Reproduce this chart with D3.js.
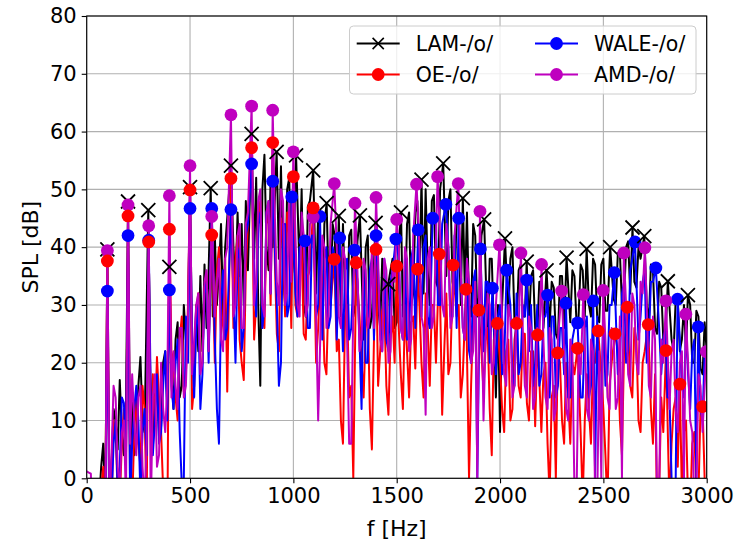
<!DOCTYPE html>
<html>
<head>
<meta charset="utf-8">
<script src="https://cdn.jsdelivr.net/npm/d3@7"></script>
<style>
  body { margin: 0; background: #fff; }
  text { font-family: "DejaVu Sans", sans-serif; }
</style>
</head>
<body>
<div id="chart"></div>
<script>
// spectra sampled every 10 Hz from 0 to 3000 Hz (20 values per row = 200 Hz)
const step = 10;
const lamLine = [
  -10,-14,-12,-20,-15,-8,-4,2,6,-5, 0,-3,2,12,10,5,17,8,4,12,
  0,3,14,4,6,16,21,10,8,2, 0,10,5,15,18,7,9,20,22,12,
  0,18,12,24,27,14,16,30,24,28, 0,22,20,30,22,35,22,37,26,36,
  0,28,42,30,36,44,28,40,45,32, 0,40,33,46,35,44,30,48,36,50,
  0,38,52,30,16,50,56,40,36,52, 40,48,0,38,54,36,30,50,52,34,
  38,0,0,36,50,30,28,47,48,0, 0,32,46,30,27,44,0,34,30,44,
  42,30,0,28,44,32,25,42,43,28, 30,41,0,0,24,40,42,26,28,0,
  0,30,26,38,30,24,0,36,38,26, 27,40,0,28,30,44,46,30,32,46,
  48,34,0,32,50,36,30,48,49,34, 33,50,0,0,35,48,50,34,32,46,
  44,30,0,32,46,30,28,44,42,28, 32,42,0,0,24,38,38,26,14,30,
  8,30,0,0,28,38,40,27,26,36, 37,28,28,0,26,35,36,26,25,34,
  34,26,0,0,26,34,33,25,24,35, 35,26,0,0,27,36,35,27,28,37,
  36,28,0,30,28,38,37,28,27,37, 38,29,29,0,0,31,30,39,39,30,
  31,40,41,32,0,34,33,40,38,0, 0,30,27,37,36,26,25,34,33,24,
  24,0,0,24,22,31,31,22,24,30, 22,0,30,20,20,29,28,19,18,27,
  22
];
const oeLine = [
  -10,-12,-14,-16,-12,-8,-5,-2,2,-4, 0,-8,-6,10,8,-3,-4,6,12,3,
  0,-2,-5,8,14,6,2,16,12,-6, 0,8,18,9,21,14,8,-2,-4,-10,
  0,22,20,14,10,24,28,15,18,30, 0,12,16,29,32,19,20,33,35,22,
  0,0,20,36,40,25,28,38,15,0, 0,26,38,42,24,20,17,36,44,0,
  0,24,30,45,48,28,26,44,46,30, 0,38,25,22,45,40,28,46,42,26,
  0,30,28,38,40,25,24,35,36,0, 0,20,26,36,34,20,18,32,30,0,
  0,22,24,10,6,28,30,14,16,0, 0,0,28,20,14,26,30,12,5,24,
  0,16,22,29,30,16,11,24,28,20, 0,26,18,12,30,22,14,27,28,19,
  0,30,20,14,32,26,16,30,30,20, 0,0,11,22,32,18,20,0,0,28,
  30,14,18,27,0,0,16,28,28,0, 0,22,15,24,26,12,4,24,0,0,
  20,12,8,22,24,10,12,24,0,16, 14,25,25,13,10,22,22,9,0,0,
  8,18,20,6,-3,14,16,0,0,20, 10,6,20,14,6,20,18,0,0,8,
  -4,10,18,12,6,20,20,0,0,18, 12,4,-5,16,20,0,0,22,10,4,
  22,0,0,16,14,26,24,10,8,20, 22,0,0,12,6,18,-6,-2,14,8,
  0,0,-5,6,12,14,2,0,-3,8, 10,-4,-6,6,8,-2,-3,12,0,0,
  -5
];
const waleLine = [
  -12,-14,-15,-12,-10,-9,-8,-4,-2,-6, 0,-10,-4,6,10,-2,2,14,13,4,
  0,-4,6,12,16,10,-3,8,12,4, 0,14,4,10,18,6,8,16,22,10,
  0,16,12,20,24,8,-1,0,28,20, 0,24,14,26,30,12,18,32,34,20,
  0,0,24,12,6,30,36,24,26,0, 0,32,20,38,40,22,26,42,44,0,
  0,36,28,44,46,26,30,46,48,32, 0,40,30,16,20,44,44,28,30,0,
  0,32,28,40,40,0,0,26,26,42, 42,28,30,0,24,38,40,26,28,40,
  38,24,0,0,22,36,38,24,26,0, 0,34,24,12,36,20,20,36,38,24,
  0,36,26,22,38,24,22,34,36,0, 0,38,26,24,38,24,24,38,40,26,
  0,0,28,40,42,28,26,0,0,44, 30,30,44,0,0,40,28,28,42,26,
  0,36,26,24,38,22,20,34,36,0, 0,0,22,34,34,20,0,0,18,28,
  30,18,20,0,0,30,18,16,32,18, 20,30,28,0,22,30,16,20,30,16,
  18,28,28,0,14,28,28,14,16,26, 26,18,0,14,14,24,26,0,0,14,
  14,26,28,14,16,0,0,28,12,14, 28,16,18,30,30,0,0,18,20,32,
  34,20,22,36,38,0,0,24,28,34, 36,20,24,34,34,0,0,26,18,24,
  26,14,14,0,-2,0,0,24,16,14, 26,18,12,22,24,0,0,12,10,22,
  18
];
const amdLine = [
  1.2,1.0,0.8,-8,-10,-14,-12,-6,-3,-8, 0,-4,4,16,14,2,-2,8,10,-4,
  0,6,18,10,4,14,16,2,-4,6, 0,-6,14,18,2,4,20,12,8,16,
  0,14,22,16,12,26,26,14,16,28, 0,18,24,30,32,18,20,34,36,22,
  0,0,28,34,38,24,22,38,40,0, 0,28,30,42,44,26,26,44,46,0,
  0,30,34,48,50,30,28,46,48,32, 0,46,34,30,50,48,30,32,48,34,
  0,42,30,28,46,42,28,30,44,0, 0,28,10,24,42,40,26,28,44,0,
  0,40,28,26,40,38,24,6,6,0, 0,36,22,24,38,36,26,28,40,26,
  0,38,24,22,38,36,20,22,36,34, 0,40,26,24,40,38,22,24,42,0,
  0,40,28,26,11,38,40,26,28,0, 0,42,30,28,44,40,26,28,42,0,
  0,36,26,24,38,34,20,22,34,0, 0,0,10,24,32,30,18,20,30,0,
  0,28,18,16,30,28,14,16,28,26, 0,26,16,14,28,26,12,14,26,24,
  0,24,14,12,26,24,10,12,24,0, 0,22,12,10,24,22,-2,-4,22,18,
  0,0,12,10,24,22,-3,-5,22,0, 0,24,14,12,26,24,12,14,28,0,
  0,30,18,16,32,30,20,18,34,32, 0,30,16,14,28,24,-4,-2,24,20,
  0,0,12,22,24,12,8,20,22,0, 0,20,10,8,-4,-2,18,16,8,0,
  0
];

// tonal peaks marked on each curve [f, SPL]
const lamPeaks = [[100,39.6],[200,47.9],[298,46.4],[400,36.6],[500,50.4],[600,50.2],[698,54.1],[798,59.6],[919,56.5],[1013,55.9],[1096,53.3],[1161,47.6],[1220,45.4],[1322,45.5],[1398,44.2],[1459,33.6],[1521,46.0],[1620,51.7],[1725,54.5],[1820,48.5],[1923,44.8],[2024,41.5],[2129,37.5],[2225,36.0],[2322,38.2],[2419,39.7],[2533,40.0],[2641,43.4],[2698,41.9],[2812,34.1],[2909,31.7]];
const oePeaks = [[100,37.6],[200,45.4],[300,40.9],[400,43.1],[500,49.9],[605,42.1],[698,51.9],[798,57.2],[900,58.1],[1000,52.2],[1096,46.8],[1198,37.9],[1304,37.3],[1400,39.6],[1500,36.7],[1601,36.2],[1706,38.8],[1773,36.9],[1835,32.7],[1897,29.1],[1987,26.8],[2080,26.8],[2182,24.8],[2279,21.7],[2375,22.5],[2475,25.5],[2556,25.0],[2616,29.6],[2717,26.6],[2803,22.1],[2870,16.3],[2980,12.4]];
const walePeaks = [[100,32.4],[200,42.0],[300,41.2],[400,32.6],[500,46.7],[605,46.7],[698,46.5],[798,54.4],[900,51.4],[992,48.7],[1056,41.1],[1129,45.3],[1224,41.6],[1296,39.5],[1400,42.0],[1496,41.4],[1604,43.0],[1674,45.0],[1738,47.4],[1800,45.0],[1905,39.7],[1963,32.9],[2032,36.0],[2129,34.3],[2230,31.7],[2319,30.3],[2375,26.9],[2451,30.7],[2553,35.6],[2653,40.9],[2754,36.4],[2859,31.0],[2959,26.2]];
const amdPeaks = [[100,39.4],[200,47.3],[300,43.7],[400,48.9],[500,54.1],[605,45.3],[698,62.9],[798,64.4],[900,63.7],[1000,56.5],[1096,45.2],[1198,51.0],[1298,47.6],[1400,48.6],[1500,44.8],[1596,50.9],[1698,52.2],[1798,51.0],[1903,46.2],[1997,40.4],[2101,39.0],[2201,37.0],[2298,32.4],[2403,31.8],[2499,32.5],[2599,39.0],[2701,39.9],[2803,30.7],[2899,28.4],[2998,21.9]];

const xTicks = [0, 500, 1000, 1500, 2000, 2500, 3000];
const yTicks = [0, 10, 20, 30, 40, 50, 60, 70, 80];

const series = [
  { name: "LAM-/o/", color: "#000000", line: lamLine, peaks: lamPeaks, mark: "x" },
  { name: "OE-/o/", color: "#ff0000", line: oeLine, peaks: oePeaks, mark: "o" },
  { name: "WALE-/o/", color: "#0000ff", line: waleLine, peaks: walePeaks, mark: "o" },
  { name: "AMD-/o/", color: "#bf00bf", line: amdLine, peaks: amdPeaks, mark: "o" }
];

const width = 737, height = 543;
const m = { left: 86.7, right: 30.3, top: 16, bottom: 64.7 };

const svg = d3.select("#chart").append("svg")
  .attr("width", width).attr("height", height);

const x = d3.scaleLinear().domain([0, 3000]).range([m.left, width - m.right]);
const y = d3.scaleLinear().domain([0, 80]).range([height - m.bottom, m.top]);

svg.append("defs").append("clipPath").attr("id", "clip")
  .append("rect")
  .attr("x", m.left).attr("y", m.top)
  .attr("width", x.range()[1] - m.left).attr("height", y.range()[0] - m.top);

// grid
const grid = svg.append("g").attr("stroke", "#b0b0b0").attr("stroke-width", 1.1);
grid.selectAll(".gx").data(xTicks).join("line")
  .attr("x1", d => x(d)).attr("x2", d => x(d))
  .attr("y1", y(0)).attr("y2", y(80));
grid.selectAll(".gy").data(yTicks).join("line")
  .attr("x1", x(0)).attr("x2", x(3000))
  .attr("y1", d => y(d)).attr("y2", d => y(d));

// merge spectrum samples with marked peaks
function merge(vals, peaks) {
  const pts = vals.map((v, i) => [i * step, v])
    .filter(p => !peaks.some(q => Math.abs(q[0] - p[0]) < 9));
  return pts.concat(peaks).sort((a, b) => a[0] - b[0]);
}

const line = d3.line().x(d => x(d[0])).y(d => y(d[1]));
const plot = svg.append("g").attr("clip-path", "url(#clip)");

series.forEach(s => {
  plot.append("path")
    .datum(merge(s.line, s.peaks))
    .attr("fill", "none")
    .attr("stroke", s.color)
    .attr("stroke-width", 2)
    .attr("stroke-linejoin", "round")
    .attr("d", line);
});

const xPath = "M-7,-7L7,7M-7,7L7,-7";
function drawMarks(s) {
  const g = plot.append("g");
  if (s.mark === "x") {
    g.selectAll("path").data(s.peaks).join("path")
      .attr("transform", d => `translate(${x(d[0])},${y(d[1])})`)
      .attr("d", xPath)
      .attr("stroke", s.color).attr("stroke-width", 1.8).attr("fill", "none");
  } else {
    g.selectAll("circle").data(s.peaks).join("circle")
      .attr("cx", d => x(d[0])).attr("cy", d => y(d[1]))
      .attr("r", 6.4).attr("fill", s.color);
  }
}
// marker stacking as in the reference
[series[2], series[0], series[3], series[1]].forEach(drawMarks);

// axes frame
svg.append("rect")
  .attr("x", m.left).attr("y", m.top)
  .attr("width", x.range()[1] - m.left).attr("height", y.range()[0] - m.top)
  .attr("fill", "none").attr("stroke", "#000").attr("stroke-width", 1.1);

const xAxis = svg.append("g")
  .attr("transform", `translate(0,${y(0)})`)
  .call(d3.axisBottom(x).tickValues(xTicks).tickSize(5).tickPadding(5).tickFormat(d3.format("d")));
const yAxis = svg.append("g")
  .attr("transform", `translate(${m.left},0)`)
  .call(d3.axisLeft(y).tickValues(yTicks).tickSize(5).tickPadding(5).tickFormat(d3.format("d")));
[xAxis, yAxis].forEach(a => {
  a.select(".domain").remove();
  a.selectAll(".tick line").attr("stroke", "#000").attr("stroke-width", 1.1);
  a.selectAll(".tick text").attr("fill", "#000")
    .style("font-family", "'DejaVu Sans', sans-serif").style("font-size", "21px");
});

svg.append("text")
  .attr("x", (m.left + x.range()[1]) / 2).attr("y", 536)
  .attr("text-anchor", "middle").style("font-size", "22px").text("f [Hz]");
svg.append("text")
  .attr("transform", `translate(38,${(m.top + y.range()[0]) / 2}) rotate(-90)`)
  .attr("text-anchor", "middle").style("font-size", "22px").text("SPL [dB]");

// legend
const lg = svg.append("g");
lg.append("rect")
  .attr("x", 349.5).attr("y", 26).attr("width", 346.5).attr("height", 68)
  .attr("rx", 4).attr("fill", "#fff").attr("fill-opacity", 0.8)
  .attr("stroke", "#cccccc").attr("stroke-width", 1);
const cols = [356.7, 535];
const rows = [43.5, 74.5];
series.forEach((s, i) => {
  const cx = cols[Math.floor(i / 2)], cy = rows[i % 2];
  const g = lg.append("g").attr("transform", `translate(${cx},${cy})`);
  g.append("line").attr("x1", 0).attr("x2", 43).attr("y1", 0).attr("y2", 0)
    .attr("stroke", s.color).attr("stroke-width", 1.8);
  if (s.mark === "x") {
    g.append("path").attr("d", xPath).attr("transform", "translate(21.5,0) scale(0.8)")
      .attr("stroke", s.color).attr("stroke-width", 2).attr("fill", "none");
  } else {
    g.append("circle").attr("cx", 21.5).attr("cy", 0).attr("r", 6.4).attr("fill", s.color);
  }
  g.append("text").attr("x", 59).attr("y", 0).attr("dy", "0.36em")
    .style("font-size", "20.5px").text(s.name);
});
</script>
</body>
</html>
